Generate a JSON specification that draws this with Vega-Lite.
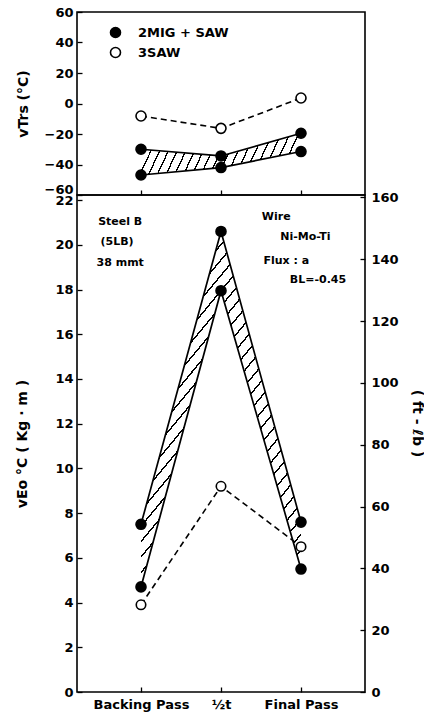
{
  "$schema": "https://vega.github.io/schema/vega-lite/v6.json",
  "background": "white",
  "padding": {"left": 15, "top": 5, "right": 0, "bottom": 0},
  "config": {
    "view": {"stroke": "black", "strokeWidth": 1.6},
    "font": "DejaVu Sans",
    "concat": {"spacing": 0},
    "axis": {
      "domain": false, "grid": false, "ticks": true, "tickSize": -5, "tickColor": "black", "tickWidth": 1.3,
      "labelFont": "DejaVu Sans", "labelFontWeight": "bold", "labelFontSize": 13, "labelColor": "black", "labelPadding": 9, "labelOverlap": false,
      "titleFont": "DejaVu Sans", "titleFontWeight": "bold", "titleFontSize": 14, "titleColor": "black"
    }
  },
  "datasets": {
    "top": [
      {"pass": 1, "series": "2MIG + SAW", "v": -30.0},
      {"pass": 1, "series": "2MIG + SAW", "v": -46.9},
      {"pass": 2, "series": "2MIG + SAW", "v": -34.4},
      {"pass": 2, "series": "2MIG + SAW", "v": -42.0},
      {"pass": 3, "series": "2MIG + SAW", "v": -19.5},
      {"pass": 3, "series": "2MIG + SAW", "v": -31.5},
      {"pass": 1, "series": "3SAW", "v": -8.2},
      {"pass": 2, "series": "3SAW", "v": -16.3},
      {"pass": 3, "series": "3SAW", "v": 3.6}
    ],
    "bottom": [
      {"pass": 1, "series": "2MIG + SAW", "v": 7.5},
      {"pass": 1, "series": "2MIG + SAW", "v": 4.7},
      {"pass": 2, "series": "2MIG + SAW", "v": 20.6},
      {"pass": 2, "series": "2MIG + SAW", "v": 17.95},
      {"pass": 3, "series": "2MIG + SAW", "v": 7.6},
      {"pass": 3, "series": "2MIG + SAW", "v": 5.5},
      {"pass": 1, "series": "3SAW", "v": 3.9},
      {"pass": 2, "series": "3SAW", "v": 9.2},
      {"pass": 3, "series": "3SAW", "v": 6.5}
    ],
    "notes": [
      {"group": "steel", "px": 0.74, "py": 21.0, "label": "Steel B"},
      {"group": "steel", "px": 0.70, "py": 20.15, "label": "(5LB)"},
      {"group": "steel", "px": 0.74, "py": 19.2, "label": "38 mmt"},
      {"group": "wire", "px": 2.51, "py": 21.26, "label": "Wire"},
      {"group": "wire", "px": 2.74, "py": 20.37, "label": "Ni-Mo-Ti"},
      {"group": "wire", "px": 2.53, "py": 19.28, "label": "Flux : a"},
      {"group": "wire", "px": 2.86, "py": 18.43, "label": "BL=-0.45"}
    ],
    "ftlb": [{"ftlb": 0}, {"ftlb": 160}]
  },
  "vconcat": [
    {
      "width": 288,
      "height": 183,
      "data": {"name": "top"},
      "layer": [
        {
          "transform": [
            {"filter": "datum.series === '2MIG + SAW'"},
            {"aggregate": [{"op": "max", "field": "v", "as": "hi"}, {"op": "min", "field": "v", "as": "lo"}], "groupby": ["pass"]}
          ],
          "layer": [
            {
              "mark": {"type": "area", "stroke": null, "fill": {"gradient": "linear", "x1": 0, "y1": 0, "x2": 1.12, "y2": 0.137, "stops": [
                {"offset": 0.048, "color": "white"}, {"offset": 0.048, "color": "black"}, {"offset": 0.056, "color": "black"}, {"offset": 0.056, "color": "white"},
                {"offset": 0.096, "color": "white"}, {"offset": 0.096, "color": "black"}, {"offset": 0.104, "color": "black"}, {"offset": 0.104, "color": "white"},
                {"offset": 0.144, "color": "white"}, {"offset": 0.144, "color": "black"}, {"offset": 0.152, "color": "black"}, {"offset": 0.152, "color": "white"},
                {"offset": 0.192, "color": "white"}, {"offset": 0.192, "color": "black"}, {"offset": 0.2, "color": "black"}, {"offset": 0.2, "color": "white"},
                {"offset": 0.24, "color": "white"}, {"offset": 0.24, "color": "black"}, {"offset": 0.248, "color": "black"}, {"offset": 0.248, "color": "white"},
                {"offset": 0.288, "color": "white"}, {"offset": 0.288, "color": "black"}, {"offset": 0.296, "color": "black"}, {"offset": 0.296, "color": "white"},
                {"offset": 0.336, "color": "white"}, {"offset": 0.336, "color": "black"}, {"offset": 0.344, "color": "black"}, {"offset": 0.344, "color": "white"},
                {"offset": 0.384, "color": "white"}, {"offset": 0.384, "color": "black"}, {"offset": 0.392, "color": "black"}, {"offset": 0.392, "color": "white"},
                {"offset": 0.432, "color": "white"}, {"offset": 0.432, "color": "black"}, {"offset": 0.44, "color": "black"}, {"offset": 0.44, "color": "white"},
                {"offset": 0.48, "color": "white"}, {"offset": 0.48, "color": "black"}, {"offset": 0.488, "color": "black"}, {"offset": 0.488, "color": "white"},
                {"offset": 0.528, "color": "white"}, {"offset": 0.528, "color": "black"}, {"offset": 0.536, "color": "black"}, {"offset": 0.536, "color": "white"},
                {"offset": 0.576, "color": "white"}, {"offset": 0.576, "color": "black"}, {"offset": 0.584, "color": "black"}, {"offset": 0.584, "color": "white"},
                {"offset": 0.624, "color": "white"}, {"offset": 0.624, "color": "black"}, {"offset": 0.632, "color": "black"}, {"offset": 0.632, "color": "white"},
                {"offset": 0.672, "color": "white"}, {"offset": 0.672, "color": "black"}, {"offset": 0.68, "color": "black"}, {"offset": 0.68, "color": "white"},
                {"offset": 0.72, "color": "white"}, {"offset": 0.72, "color": "black"}, {"offset": 0.728, "color": "black"}, {"offset": 0.728, "color": "white"},
                {"offset": 0.768, "color": "white"}, {"offset": 0.768, "color": "black"}, {"offset": 0.776, "color": "black"}, {"offset": 0.776, "color": "white"},
                {"offset": 0.816, "color": "white"}, {"offset": 0.816, "color": "black"}, {"offset": 0.824, "color": "black"}, {"offset": 0.824, "color": "white"},
                {"offset": 0.864, "color": "white"}, {"offset": 0.864, "color": "black"}, {"offset": 0.872, "color": "black"}, {"offset": 0.872, "color": "white"},
                {"offset": 0.912, "color": "white"}, {"offset": 0.912, "color": "black"}, {"offset": 0.92, "color": "black"}, {"offset": 0.92, "color": "white"},
                {"offset": 0.96, "color": "white"}, {"offset": 0.96, "color": "black"}, {"offset": 0.968, "color": "black"}, {"offset": 0.968, "color": "white"}
              ]}},
              "encoding": {
                "x": {"field": "pass", "type": "quantitative", "title": null, "scale": {"domain": [0.2, 3.8], "nice": false, "zero": false},
                      "axis": {"values": [1, 2, 3], "labels": false}},
                "y": {"field": "hi", "type": "quantitative", "title": "vTrs (°C)", "scale": {"domain": [-60, 60], "nice": false, "zero": false},
                      "axis": {"values": [-60, -40, -20, 0, 20, 40, 60], "tickCount": 12, "titlePadding": 14, "labelOverlap": false, "labelSeparation": 0,
                               "labelOffset": {"condition": {"test": "datum.value == -60", "value": -6}, "value": 0}}},
                "y2": {"field": "lo"}
              }
            },
            {
              "mark": {"type": "line", "color": "black", "strokeWidth": 1.7},
              "encoding": {
                "x": {"field": "pass", "type": "quantitative", "title": null},
                "y": {"field": "hi", "type": "quantitative", "title": "vTrs (°C)"}
              }
            },
            {
              "mark": {"type": "line", "color": "black", "strokeWidth": 1.7},
              "encoding": {
                "x": {"field": "pass", "type": "quantitative", "title": null},
                "y": {"field": "lo", "type": "quantitative", "title": "vTrs (°C)"}
              }
            }
          ]
        },
        {
          "transform": [{"filter": "datum.series === '3SAW'"}],
          "mark": {"type": "line", "color": "black", "strokeWidth": 1.6, "strokeDash": [6, 4]},
          "encoding": {
            "x": {"field": "pass", "type": "quantitative", "title": null},
            "y": {"field": "v", "type": "quantitative", "title": "vTrs (°C)"}
          }
        },
        {
          "mark": {"type": "point", "shape": "circle", "filled": true, "stroke": "black", "strokeWidth": 1.6, "size": 100, "opacity": 1},
          "encoding": {
            "x": {"field": "pass", "type": "quantitative", "title": null},
            "y": {"field": "v", "type": "quantitative", "title": "vTrs (°C)"},
            "fill": {"field": "series", "type": "nominal",
                     "scale": {"domain": ["2MIG + SAW", "3SAW"], "range": ["black", "white"]},
                     "legend": {"orient": "none", "legendX": 32, "legendY": 14, "title": null,
                                "labelFont": "DejaVu Sans", "labelFontSize": 13, "labelFontWeight": "bold", "labelColor": "black",
                                "symbolType": "circle", "symbolSize": 100, "symbolStrokeColor": "black", "symbolStrokeWidth": 1.6,
                                "labelOffset": 16, "rowPadding": 3}}
          }
        }
      ]
    },
    {
      "width": 288,
      "height": 497,
      "layer": [
        {
          "layer": [
            {
              "data": {"name": "bottom"},
              "transform": [
                {"filter": "datum.series === '2MIG + SAW'"},
                {"aggregate": [{"op": "max", "field": "v", "as": "hi"}, {"op": "min", "field": "v", "as": "lo"}], "groupby": ["pass"]}
              ],
              "layer": [
                {
                  "mark": {"type": "area", "stroke": null, "fill": {"gradient": "linear", "x1": 0, "y1": 0, "x2": 0.65, "y2": 1.2, "stops": [
                    {"offset": 0.028, "color": "white"}, {"offset": 0.028, "color": "black"}, {"offset": 0.032, "color": "black"}, {"offset": 0.032, "color": "white"},
                    {"offset": 0.056, "color": "white"}, {"offset": 0.056, "color": "black"}, {"offset": 0.06, "color": "black"}, {"offset": 0.06, "color": "white"},
                    {"offset": 0.084, "color": "white"}, {"offset": 0.084, "color": "black"}, {"offset": 0.088, "color": "black"}, {"offset": 0.088, "color": "white"},
                    {"offset": 0.112, "color": "white"}, {"offset": 0.112, "color": "black"}, {"offset": 0.116, "color": "black"}, {"offset": 0.116, "color": "white"},
                    {"offset": 0.14, "color": "white"}, {"offset": 0.14, "color": "black"}, {"offset": 0.144, "color": "black"}, {"offset": 0.144, "color": "white"},
                    {"offset": 0.168, "color": "white"}, {"offset": 0.168, "color": "black"}, {"offset": 0.172, "color": "black"}, {"offset": 0.172, "color": "white"},
                    {"offset": 0.196, "color": "white"}, {"offset": 0.196, "color": "black"}, {"offset": 0.2, "color": "black"}, {"offset": 0.2, "color": "white"},
                    {"offset": 0.224, "color": "white"}, {"offset": 0.224, "color": "black"}, {"offset": 0.228, "color": "black"}, {"offset": 0.228, "color": "white"},
                    {"offset": 0.252, "color": "white"}, {"offset": 0.252, "color": "black"}, {"offset": 0.256, "color": "black"}, {"offset": 0.256, "color": "white"},
                    {"offset": 0.28, "color": "white"}, {"offset": 0.28, "color": "black"}, {"offset": 0.284, "color": "black"}, {"offset": 0.284, "color": "white"},
                    {"offset": 0.308, "color": "white"}, {"offset": 0.308, "color": "black"}, {"offset": 0.312, "color": "black"}, {"offset": 0.312, "color": "white"},
                    {"offset": 0.336, "color": "white"}, {"offset": 0.336, "color": "black"}, {"offset": 0.34, "color": "black"}, {"offset": 0.34, "color": "white"},
                    {"offset": 0.364, "color": "white"}, {"offset": 0.364, "color": "black"}, {"offset": 0.368, "color": "black"}, {"offset": 0.368, "color": "white"},
                    {"offset": 0.392, "color": "white"}, {"offset": 0.392, "color": "black"}, {"offset": 0.396, "color": "black"}, {"offset": 0.396, "color": "white"},
                    {"offset": 0.42, "color": "white"}, {"offset": 0.42, "color": "black"}, {"offset": 0.424, "color": "black"}, {"offset": 0.424, "color": "white"},
                    {"offset": 0.448, "color": "white"}, {"offset": 0.448, "color": "black"}, {"offset": 0.452, "color": "black"}, {"offset": 0.452, "color": "white"},
                    {"offset": 0.476, "color": "white"}, {"offset": 0.476, "color": "black"}, {"offset": 0.48, "color": "black"}, {"offset": 0.48, "color": "white"},
                    {"offset": 0.504, "color": "white"}, {"offset": 0.504, "color": "black"}, {"offset": 0.508, "color": "black"}, {"offset": 0.508, "color": "white"},
                    {"offset": 0.532, "color": "white"}, {"offset": 0.532, "color": "black"}, {"offset": 0.536, "color": "black"}, {"offset": 0.536, "color": "white"},
                    {"offset": 0.56, "color": "white"}, {"offset": 0.56, "color": "black"}, {"offset": 0.564, "color": "black"}, {"offset": 0.564, "color": "white"},
                    {"offset": 0.588, "color": "white"}, {"offset": 0.588, "color": "black"}, {"offset": 0.592, "color": "black"}, {"offset": 0.592, "color": "white"},
                    {"offset": 0.616, "color": "white"}, {"offset": 0.616, "color": "black"}, {"offset": 0.62, "color": "black"}, {"offset": 0.62, "color": "white"},
                    {"offset": 0.644, "color": "white"}, {"offset": 0.644, "color": "black"}, {"offset": 0.648, "color": "black"}, {"offset": 0.648, "color": "white"},
                    {"offset": 0.672, "color": "white"}, {"offset": 0.672, "color": "black"}, {"offset": 0.676, "color": "black"}, {"offset": 0.676, "color": "white"},
                    {"offset": 0.7, "color": "white"}, {"offset": 0.7, "color": "black"}, {"offset": 0.704, "color": "black"}, {"offset": 0.704, "color": "white"},
                    {"offset": 0.728, "color": "white"}, {"offset": 0.728, "color": "black"}, {"offset": 0.732, "color": "black"}, {"offset": 0.732, "color": "white"},
                    {"offset": 0.756, "color": "white"}, {"offset": 0.756, "color": "black"}, {"offset": 0.76, "color": "black"}, {"offset": 0.76, "color": "white"},
                    {"offset": 0.784, "color": "white"}, {"offset": 0.784, "color": "black"}, {"offset": 0.788, "color": "black"}, {"offset": 0.788, "color": "white"},
                    {"offset": 0.812, "color": "white"}, {"offset": 0.812, "color": "black"}, {"offset": 0.816, "color": "black"}, {"offset": 0.816, "color": "white"},
                    {"offset": 0.84, "color": "white"}, {"offset": 0.84, "color": "black"}, {"offset": 0.844, "color": "black"}, {"offset": 0.844, "color": "white"},
                    {"offset": 0.868, "color": "white"}, {"offset": 0.868, "color": "black"}, {"offset": 0.872, "color": "black"}, {"offset": 0.872, "color": "white"},
                    {"offset": 0.896, "color": "white"}, {"offset": 0.896, "color": "black"}, {"offset": 0.9, "color": "black"}, {"offset": 0.9, "color": "white"},
                    {"offset": 0.924, "color": "white"}, {"offset": 0.924, "color": "black"}, {"offset": 0.928, "color": "black"}, {"offset": 0.928, "color": "white"},
                    {"offset": 0.952, "color": "white"}, {"offset": 0.952, "color": "black"}, {"offset": 0.956, "color": "black"}, {"offset": 0.956, "color": "white"},
                    {"offset": 0.98, "color": "white"}, {"offset": 0.98, "color": "black"}, {"offset": 0.984, "color": "black"}, {"offset": 0.984, "color": "white"}
                  ]}},
                  "encoding": {
                    "x": {"field": "pass", "type": "quantitative", "title": null, "scale": {"domain": [0.2, 3.8], "nice": false, "zero": false},
                          "axis": {"values": [1, 2, 3], "labelPadding": 11,
                                   "labelExpr": "datum.value == 1 ? 'Backing Pass' : datum.value == 2 ? '½t' : 'Final  Pass'"}},
                    "y": {"field": "hi", "type": "quantitative", "title": "vEo °C  ( Kg · m )", "scale": {"domain": [0, 22.23], "nice": false, "zero": false},
                          "axis": {"values": [0, 2, 4, 6, 8, 10, 12, 14, 16, 18, 20, 22], "tickCount": 24, "titlePadding": 25, "labelOverlap": false}},
                    "y2": {"field": "lo"}
                  }
                },
                {
                  "mark": {"type": "line", "color": "black", "strokeWidth": 1.7},
                  "encoding": {
                    "x": {"field": "pass", "type": "quantitative", "title": null},
                    "y": {"field": "hi", "type": "quantitative", "title": "vEo °C  ( Kg · m )"}
                  }
                },
                {
                  "mark": {"type": "line", "color": "black", "strokeWidth": 1.7},
                  "encoding": {
                    "x": {"field": "pass", "type": "quantitative", "title": null},
                    "y": {"field": "lo", "type": "quantitative", "title": "vEo °C  ( Kg · m )"}
                  }
                }
              ]
            },
            {
              "data": {"name": "bottom"},
              "transform": [{"filter": "datum.series === '3SAW'"}],
              "mark": {"type": "line", "color": "black", "strokeWidth": 1.6, "strokeDash": [6, 4]},
              "encoding": {
                "x": {"field": "pass", "type": "quantitative", "title": null},
                "y": {"field": "v", "type": "quantitative", "title": "vEo °C  ( Kg · m )"}
              }
            },
            {
              "data": {"name": "bottom"},
              "transform": [{"filter": "datum.series === '2MIG + SAW'"}],
              "mark": {"type": "point", "shape": "circle", "filled": true, "fill": "black", "stroke": "black", "strokeWidth": 1.6, "size": 100, "opacity": 1},
              "encoding": {
                "x": {"field": "pass", "type": "quantitative", "title": null},
                "y": {"field": "v", "type": "quantitative", "title": "vEo °C  ( Kg · m )"}
              }
            },
            {
              "data": {"name": "bottom"},
              "transform": [{"filter": "datum.series === '3SAW'"}],
              "mark": {"type": "point", "shape": "circle", "filled": true, "fill": "white", "stroke": "black", "strokeWidth": 1.6, "size": 90, "opacity": 1},
              "encoding": {
                "x": {"field": "pass", "type": "quantitative", "title": null},
                "y": {"field": "v", "type": "quantitative", "title": "vEo °C  ( Kg · m )"}
              }
            },
            {
              "data": {"name": "notes"},
              "transform": [{"filter": "datum.group === 'steel'"}],
              "mark": {"type": "text", "align": "center", "baseline": "middle", "font": "DejaVu Sans", "fontWeight": "bold", "fontSize": 11, "color": "black"},
              "encoding": {
                "x": {"field": "px", "type": "quantitative", "title": null},
                "y": {"field": "py", "type": "quantitative", "title": "vEo °C  ( Kg · m )"},
                "text": {"field": "label"}
              }
            },
            {
              "data": {"name": "notes"},
              "transform": [{"filter": "datum.group === 'wire'"}],
              "mark": {"type": "text", "align": "left", "baseline": "middle", "font": "DejaVu Sans", "fontWeight": "bold", "fontSize": 11, "color": "black"},
              "encoding": {
                "x": {"field": "px", "type": "quantitative", "title": null},
                "y": {"field": "py", "type": "quantitative", "title": "vEo °C  ( Kg · m )"},
                "text": {"field": "label"}
              }
            }
          ]
        },
        {
          "data": {"name": "ftlb"},
          "mark": {"type": "point", "opacity": 0},
          "encoding": {
            "y": {"field": "ftlb", "type": "quantitative", "title": "( ft - ℓb )", "scale": {"domain": [0, 160.8], "nice": false, "zero": false},
                  "axis": {"orient": "right", "values": [0, 20, 40, 60, 80, 100, 120, 140, 160], "tickCount": 18, "labelPadding": 11, "titlePadding": 11, "titleY": 228, "labelOverlap": false}}
          }
        }
      ],
      "resolve": {"scale": {"y": "independent"}}
    }
  ],
  "bounds": "flush",
  "resolve": {"scale": {"fill": "independent"}, "legend": {"fill": "independent"}}
}
